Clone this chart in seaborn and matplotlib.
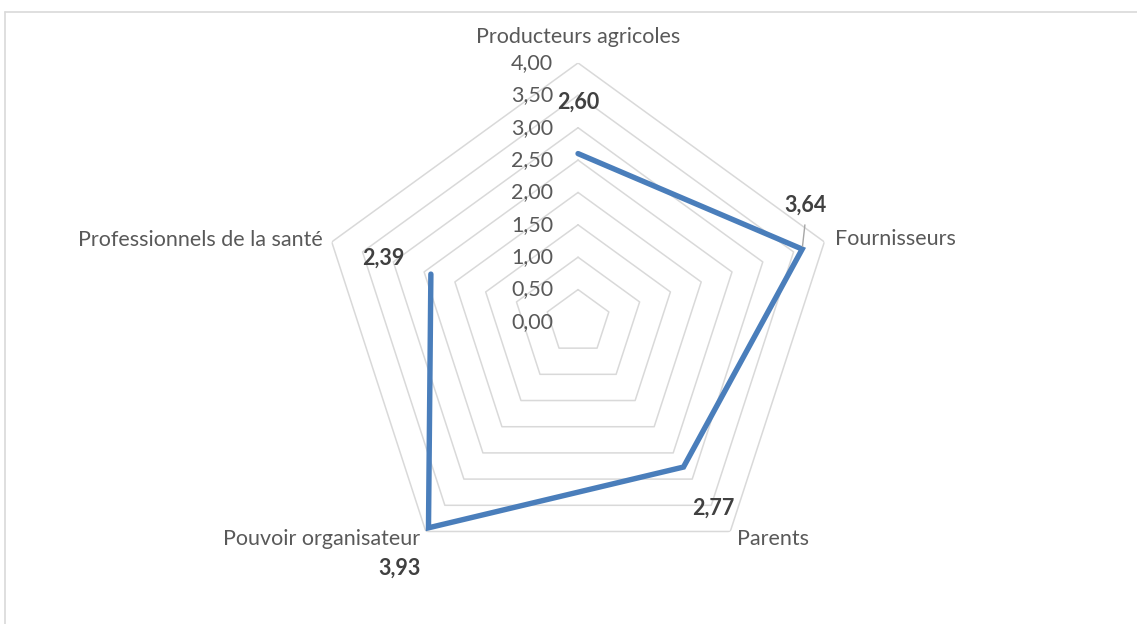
import matplotlib.pyplot as plt
import matplotlib.transforms as mtransforms
import numpy as np
import seaborn as sns
from matplotlib.lines import Line2D

# Radar chart of average scores per stakeholder group
categories = [
    "Producteurs agricoles",
    "Fournisseurs",
    "Parents",
    "Pouvoir organisateur",
    "Professionnels de la santé",
]
scores = [2.60, 3.64, 2.77, 3.93, 2.39]
ring_levels = [0.0, 0.5, 1.0, 1.5, 2.0, 2.5, 3.0, 3.5, 4.0]
ring_labels = ["0,00", "0,50", "1,00", "1,50", "2,00", "2,50", "3,00", "3,50", "4,00"]
score_labels = ["2,60", "3,64", "2,77", "3,93", "2,39"]

sns.set_theme(style="white")
plt.rcParams["font.family"] = ["Lato", "DejaVu Sans"]

LINE_BLUE = "#4A7EBB"
GRID_GREY = "#D9D9D9"
TEXT_GREY = "#595959"
LABEL_DARK = "#404040"

fig = plt.figure(figsize=(11.37, 6.24), dpi=100)
ax = fig.add_axes([0.2806, 0.069, 0.4556, 0.8301], projection="polar")
ax.set_theta_offset(np.pi / 2)
ax.set_theta_direction(-1)
ax.set_ylim(0, 4)
ax.grid(False)
ax.spines["polar"].set_visible(False)
ax.set_xticks([])
ax.set_yticks([])
ax.patch.set_visible(False)

angles = np.linspace(0, 2 * np.pi, len(categories), endpoint=False)
closed_angles = np.append(angles, angles[0])

# pentagon rings
for lvl in ring_levels[1:]:
    ax.plot(closed_angles, [lvl] * len(closed_angles), color=GRID_GREY, lw=1.1, zorder=1)

# data series
sns.lineplot(
    x=closed_angles,
    y=scores + scores[:1],
    sort=False,
    color=LINE_BLUE,
    lw=3.9,
    solid_joinstyle="miter",
    ax=ax,
    zorder=3,
)


def shifted(dx, dy):
    return mtransforms.offset_copy(ax.transData, fig=fig, x=dx, y=dy, units="dots")


# radial tick labels along the top spoke
for lvl, txt in zip(ring_levels, ring_labels):
    ax.text(0, lvl, txt, transform=shifted(-25, 0), ha="right", va="center",
            fontsize=15.5, color=TEXT_GREY)

# category labels
cat_offsets = [(0, 26, "center"), (11, 3, "left"), (7, -8, "left"),
               (-6, -8, "right"), (-9, 2, "right")]
for ang, name, (dx, dy, ha) in zip(angles, categories, cat_offsets):
    ax.text(ang, 4.0, name, transform=shifted(dx, dy), ha=ha, va="center",
            fontsize=15.5, color=TEXT_GREY)

# data labels
val_offsets = [(0, 51), (3, 44), (30, -41), (-29, -40), (-48, 16)]
for ang, val, txt, (dx, dy) in zip(angles, scores, score_labels, val_offsets):
    ax.text(ang, val, txt, transform=shifted(dx, dy), ha="center", va="center",
            fontsize=15.5, fontweight="bold", color=LABEL_DARK, zorder=4)

# leader line for Fournisseurs label
ax.annotate("", xy=(angles[1], scores[1]), xycoords="data",
            xytext=(angles[1], scores[1]), textcoords=shifted(3, 27),
            arrowprops=dict(arrowstyle="-", color="#A6A6A6", lw=1))

# chart area border (top and left edges visible)
fig.add_artist(Line2D([4.5 / 1137, 1.01], [1 - 11.5 / 624] * 2,
                      transform=fig.transFigure, color=GRID_GREY, lw=1.2))
fig.add_artist(Line2D([4.5 / 1137] * 2, [-0.01, 1 - 11.5 / 624],
                      transform=fig.transFigure, color=GRID_GREY, lw=1.2))

fig.savefig("out.png", dpi=100)
